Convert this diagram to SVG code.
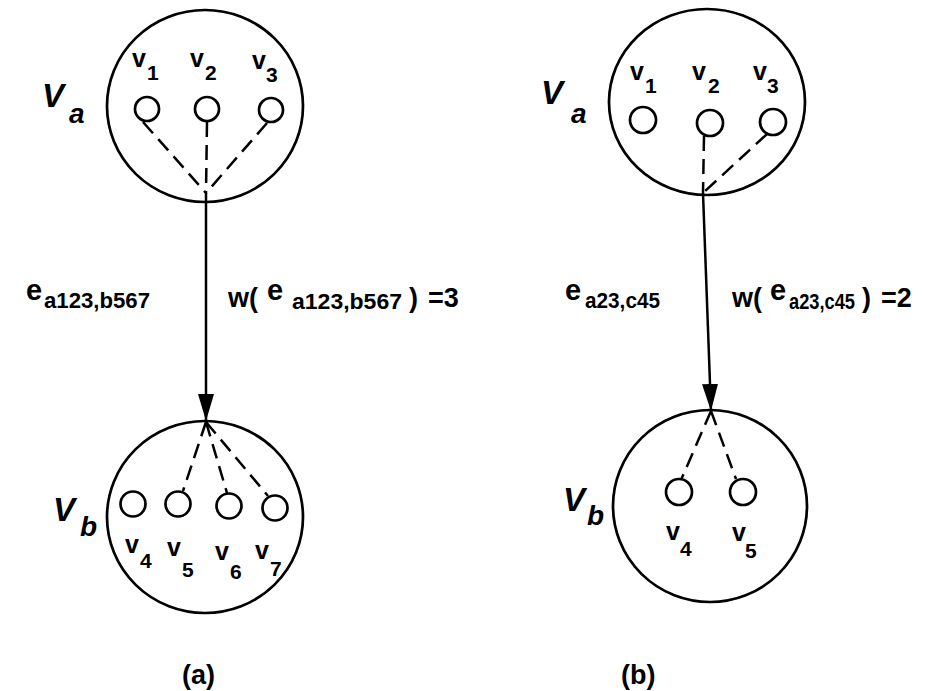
<svg xmlns="http://www.w3.org/2000/svg" width="927" height="691" viewBox="0 0 927 691">
  <style>
    .big { fill: none; stroke: #000; stroke-width: 2.7; }
    .vx { fill: #fff; stroke: #000; stroke-width: 2.7; }
    .dash { fill: none; stroke: #000; stroke-width: 2.5; stroke-dasharray: 15 8; }
    .edge { fill: none; stroke: #000; stroke-width: 2.5; }
    text { font-family: "Liberation Sans", Arial, Helvetica, sans-serif; font-weight: bold; fill: #000; }
    .v { font-size: 25px; }
    .s { font-size: 21px; }
    .V { font-size: 33px; font-style: italic; }
    .Vs { font-size: 28px; font-style: italic; }
    .lab { font-size: 27px; }
    .le { font-size: 29px; }
    .ls { font-size: 22px; }
    .cap { font-size: 27px; }
  </style>
  <defs>
    <marker id="arrow" markerUnits="userSpaceOnUse" markerWidth="28" markerHeight="18" viewBox="0 0 28 18" refX="27" refY="9" orient="auto">
      <path d="M0,1 L27,9 L0,17 Z" fill="#000"/>
    </marker>
  </defs>

  <!-- connectors: dashed member links and the weighted edges -->
  <g id="connectors">
    <!-- (a) top cluster: v1, v2, v3 to the hub -->
    <line class="dash" x1="143" y1="122" x2="206" y2="193"/>
    <line class="dash" x1="207" y1="122" x2="206" y2="193"/>
    <line class="dash" x1="267" y1="123" x2="206" y2="193"/>
    <!-- (a) edge -->
    <line class="edge" x1="206" y1="193" x2="206" y2="421" marker-end="url(#arrow)"/>
    <!-- (a) bottom cluster: hub to v5, v6, v7 -->
    <line class="dash" x1="206" y1="422" x2="183" y2="491"/>
    <line class="dash" x1="206" y1="422" x2="227" y2="493"/>
    <line class="dash" x1="206" y1="422" x2="268" y2="496"/>

    <!-- (b) top cluster: v2, v3 to the hub -->
    <line class="dash" x1="704" y1="136" x2="703" y2="193"/>
    <line class="dash" x1="767" y1="134" x2="703" y2="193"/>
    <!-- (b) edge -->
    <line class="edge" x1="703" y1="193" x2="711" y2="411" marker-end="url(#arrow)"/>
    <!-- (b) bottom cluster: hub to v4, v5 -->
    <line class="dash" x1="711" y1="411" x2="681" y2="480"/>
    <line class="dash" x1="711" y1="411" x2="736" y2="479"/>
  </g>

  <!-- (a) V_a -->
  <g id="a-Va">
    <ellipse class="big" cx="205" cy="106" rx="98" ry="96"/>
    <text class="V" x="42" y="107">V</text><text class="Vs" x="69" y="123">a</text>
    <g id="a-v1"><circle class="vx" cx="147" cy="109" r="12"/><text class="v" x="132" y="67">v</text><text class="s" x="147" y="80">1</text></g>
    <g id="a-v2"><circle class="vx" cx="207" cy="109" r="12"/><text class="v" x="190" y="67">v</text><text class="s" x="205" y="80">2</text></g>
    <g id="a-v3"><circle class="vx" cx="271" cy="110" r="12"/><text class="v" x="252" y="69">v</text><text class="s" x="266" y="82">3</text></g>
  </g>

  <!-- (a) V_b -->
  <g id="a-Vb">
    <ellipse class="big" cx="205" cy="517" rx="98" ry="96"/>
    <text class="V" x="53" y="521">V</text><text class="Vs" x="80" y="536">b</text>
    <g id="a-v4"><circle class="vx" cx="133" cy="504" r="12.5"/><text class="v" x="125" y="553">v</text><text class="s" x="140" y="568">4</text></g>
    <g id="a-v5"><circle class="vx" cx="178" cy="504" r="12.5"/><text class="v" x="167" y="556">v</text><text class="s" x="182" y="577">5</text></g>
    <g id="a-v6"><circle class="vx" cx="229" cy="506" r="12.5"/><text class="v" x="215" y="560">v</text><text class="s" x="230" y="579">6</text></g>
    <g id="a-v7"><circle class="vx" cx="275" cy="508" r="12.5"/><text class="v" x="255" y="559">v</text><text class="s" x="270" y="576">7</text></g>
  </g>

  <!-- (a) edge labels -->
  <g id="a-labels">
    <text class="le" x="26" y="300">e</text><text class="ls" x="44" y="308" textLength="106" lengthAdjust="spacingAndGlyphs">a123,b567</text>
    <text class="lab" x="228" y="307">w(</text>
    <text class="le" x="267" y="300">e</text>
    <text class="ls" x="292" y="309" textLength="110" lengthAdjust="spacingAndGlyphs">a123,b567</text>
    <text class="lab" x="409" y="307">)</text>
    <text class="lab" x="428" y="307">=3</text>
  </g>

  <!-- (b) V_a -->
  <g id="b-Va">
    <ellipse class="big" cx="707" cy="102" rx="98" ry="93"/>
    <text class="V" x="541" y="104">V</text><text class="Vs" x="571" y="123">a</text>
    <g id="b-v1"><circle class="vx" cx="643" cy="120" r="13"/><text class="v" x="630" y="80">v</text><text class="s" x="645" y="93">1</text></g>
    <g id="b-v2"><circle class="vx" cx="710" cy="123" r="13"/><text class="v" x="692" y="80">v</text><text class="s" x="708" y="93">2</text></g>
    <g id="b-v3"><circle class="vx" cx="773" cy="122" r="13"/><text class="v" x="753" y="80">v</text><text class="s" x="767" y="93">3</text></g>
  </g>

  <!-- (b) V_b -->
  <g id="b-Vb">
    <ellipse class="big" cx="710" cy="506" rx="97" ry="96"/>
    <text class="V" x="563" y="511">V</text><text class="Vs" x="587" y="525">b</text>
    <g id="b-v4"><circle class="vx" cx="679" cy="492" r="13"/><text class="v" x="666" y="540">v</text><text class="s" x="680" y="556">4</text></g>
    <g id="b-v5"><circle class="vx" cx="743" cy="492" r="13"/><text class="v" x="732" y="541">v</text><text class="s" x="745" y="558">5</text></g>
  </g>

  <!-- (b) edge labels -->
  <g id="b-labels">
    <text class="le" x="565" y="300">e</text><text class="ls" x="585" y="308" textLength="75" lengthAdjust="spacingAndGlyphs">a23,c45</text>
    <text class="lab" x="732" y="307">w(</text>
    <text class="le" x="770" y="300">e</text>
    <text class="ls" x="789" y="309" textLength="66" lengthAdjust="spacingAndGlyphs">a23,c45</text>
    <text class="lab" x="862" y="307">)</text>
    <text class="lab" x="881" y="307">=2</text>
  </g>

  <!-- panel captions -->
  <text class="cap" x="182" y="684">(a)</text>
  <text class="cap" x="621" y="684">(b)</text>
</svg>
